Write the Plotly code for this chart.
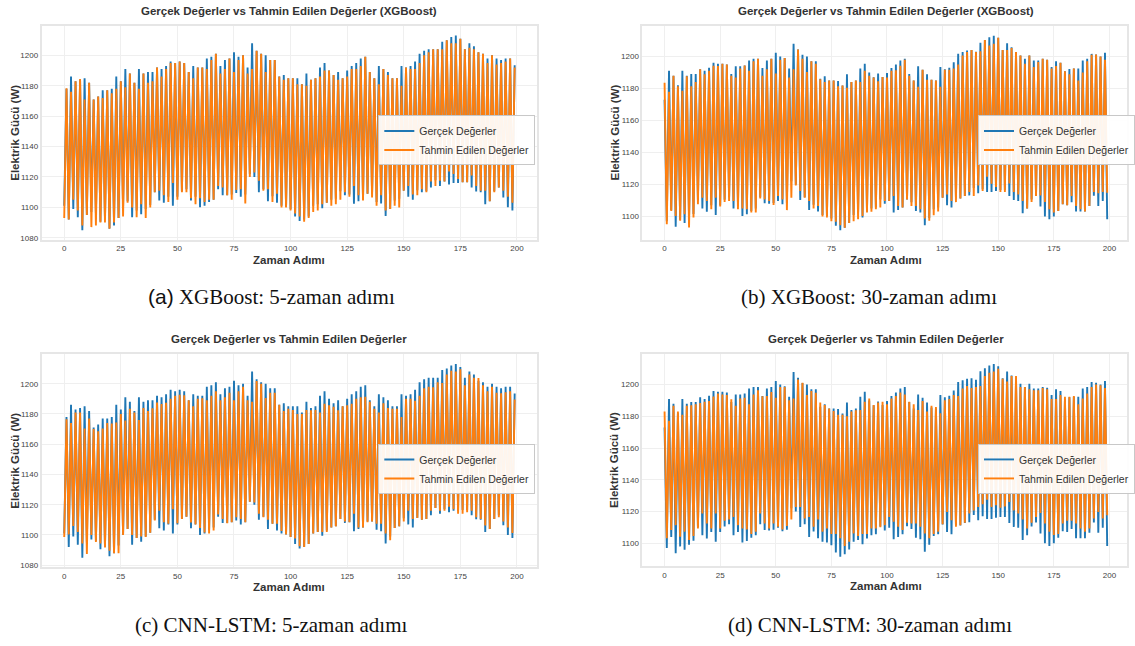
import plotly.graph_objects as go

# ---------------- DATA ----------------
# 5-step panels (a, c): lows at even steps, highs at odd steps
actual5_low = [1101, 1092, 1099, 1093.5, 1085, 1095, 1097, 1096, 1090.5, 1092,
               1086, 1088, 1093, 1100, 1104, 1093.5, 1098, 1095.5, 1099, 1101.5,
               1110, 1104.5, 1103, 1107, 1101, 1107, 1110.5, 1112, 1104.5, 1107,
               1100, 1101, 1103.5, 1105, 1112, 1108, 1108, 1108.5, 1109.5, 1107,
               1108.5, 1122, 1120, 1110, 1112, 1104, 1107.4, 1103, 1101, 1100.4,
               1098.7, 1094, 1091, 1092, 1094, 1101, 1102, 1099.5, 1103, 1105,
               1105.7, 1110.6, 1108, 1108.5, 1102.4, 1104, 1105, 1109, 1109, 1103.5,
               1102.5, 1094.4, 1099, 1104.6, 1105.7, 1111, 1107, 1105, 1111.3, 1110,
               1110.6, 1113, 1117.8, 1114, 1117, 1115, 1116, 1116, 1116.5, 1116.5,
               1113, 1110.4, 1110, 1102, 1104, 1110.6, 1113, 1106.5, 1100, 1098]
actual5_high = [1178, 1186, 1183, 1184, 1185, 1182, 1171, 1173, 1177, 1177,
                1178, 1186, 1183, 1191, 1188, 1182, 1191, 1188, 1189, 1189,
                1192, 1191, 1193, 1196, 1195, 1196, 1195, 1189, 1193, 1192,
                1192, 1198, 1199, 1201, 1193, 1197, 1198, 1202, 1199, 1200,
                1192, 1208, 1203, 1201, 1200, 1197, 1197, 1186, 1187, 1185,
                1185, 1185, 1181, 1188, 1184, 1185, 1192, 1195, 1190, 1187,
                1189, 1185, 1190, 1193, 1195, 1198, 1199, 1189, 1185, 1193,
                1191, 1189, 1185, 1185, 1193, 1192, 1193, 1196, 1201, 1203,
                1204, 1204, 1204, 1209, 1210, 1212, 1213, 1211, 1204, 1208,
                1206, 1202, 1201, 1198, 1200, 1198, 1197, 1198, 1198, 1193.5]
xgb5_low = [1093, 1092, 1105, 1098, 1088, 1095, 1087, 1088, 1090, 1090,
            1086, 1090, 1093, 1094, 1103, 1100, 1093.5, 1102, 1093, 1100,
            1110, 1111, 1108, 1103.5, 1116, 1105, 1110, 1110, 1106, 1102,
            1106, 1103.5, 1105, 1105, 1114, 1113, 1108, 1105, 1111.5, 1112,
            1102.6, 1120, 1123, 1117.5, 1111, 1112, 1103.5, 1109, 1100, 1100,
            1098, 1096, 1094, 1090.5, 1093, 1097, 1098, 1102, 1103, 1101,
            1102, 1105, 1110, 1107, 1114, 1108, 1104.5, 1109, 1106.5, 1101,
            1108, 1098, 1099, 1101, 1100, 1111, 1114, 1108.5, 1108, 1112,
            1110, 1117, 1114, 1117.5, 1117, 1123.6, 1122, 1118.6, 1116.5, 1116.5,
            1121, 1114, 1111, 1111, 1104, 1110, 1113, 1111, 1107, 1103]
xgb5_high = [1178.3, 1176, 1183, 1184.4, 1171, 1182, 1171, 1173, 1172, 1177,
             1175, 1178, 1183, 1179, 1188, 1182, 1178, 1188, 1182, 1183,
             1192, 1186, 1191, 1195, 1195, 1196, 1195, 1189, 1185, 1192,
             1192, 1191, 1197, 1201, 1188, 1191, 1198, 1189, 1197, 1200,
             1188, 1191, 1203, 1201, 1189, 1197, 1197, 1186, 1184, 1185,
             1185, 1181, 1181, 1180, 1184, 1185, 1186, 1190, 1190, 1187,
             1184, 1185, 1186, 1191, 1191, 1193, 1199, 1189, 1185, 1181,
             1191, 1187, 1185, 1185, 1180, 1192, 1191, 1191, 1195, 1200,
             1202, 1204, 1204, 1204, 1210, 1208, 1208, 1211, 1204, 1205,
             1204, 1202, 1201, 1195, 1200, 1194, 1195, 1196, 1198, 1192]
cnn5_low = [1098.7, 1100.4, 1106, 1102, 1094.3, 1087.4, 1100, 1095.4, 1094.3, 1091.7,
            1089.6, 1088, 1088, 1100, 1104, 1100, 1098, 1099, 1098.7, 1101.5,
            1109.6, 1116, 1108.5, 1107.4, 1117, 1107.8, 1110.6, 1112, 1108.3, 1107,
            1104.6, 1101.7, 1101, 1103, 1113.5, 1110.6, 1107.8, 1108.5, 1111.7, 1110.6,
            1108.5, 1122, 1121.5, 1114, 1111.7, 1110, 1107.4, 1107.4, 1102.6, 1100.4,
            1098.7, 1097.6, 1092.6, 1092, 1094, 1101, 1102, 1102, 1102, 1105,
            1105.7, 1110.6, 1109, 1108.5, 1114, 1105, 1105, 1108.5, 1109, 1107.4,
            1107.4, 1101, 1096.5, 1104.6, 1105.7, 1109, 1116, 1110.6, 1111.3, 1110,
            1110.6, 1116, 1117.8, 1116, 1116, 1118.7, 1117, 1114, 1114, 1115,
            1116, 1111.7, 1110.6, 1106.3, 1104, 1110.6, 1111.7, 1109, 1105, 1101.3]
cnn5_high = [1176.5, 1174, 1181, 1181, 1170.4, 1177, 1170, 1168.5, 1170.4, 1174,
             1173.7, 1174.4, 1180, 1175.6, 1183.5, 1181, 1176, 1184, 1182, 1183.7,
             1187.6, 1186.5, 1187.4, 1190, 1192, 1192.6, 1192.4, 1189, 1185, 1190,
             1190.4, 1189, 1192, 1195, 1189, 1191, 1194, 1189, 1195, 1198,
             1189, 1188, 1201.7, 1200, 1190.6, 1194, 1194, 1186, 1182, 1183.5,
             1182.6, 1180, 1180, 1182.6, 1182.4, 1182.6, 1181, 1186.7, 1185.7, 1184.8,
             1182.4, 1185, 1185.7, 1186.7, 1190, 1191, 1191.3, 1188, 1183.5, 1181,
             1187, 1184, 1183.5, 1183.5, 1178, 1190, 1190, 1188.7, 1192, 1197,
             1198, 1197.6, 1201, 1200.4, 1206, 1208.5, 1208, 1209.5, 1199, 1206,
             1204, 1203.7, 1199, 1195, 1198, 1194, 1193.7, 1194.3, 1195, 1189.6]

# 30-step panels (b, d): highs at even steps, lows at odd steps
actual30_high = [1173, 1191, 1188, 1182, 1191, 1188, 1189, 1189, 1192, 1191,
                 1193, 1196, 1195.5, 1195.5, 1195, 1189, 1193.8, 1193.8, 1194.4, 1197.5,
                 1198.5, 1198.5, 1192.8, 1197.5, 1198.5, 1202.3, 1200, 1199, 1192.4, 1208,
                 1204.3, 1201, 1200, 1197, 1197, 1186, 1187.6, 1185, 1185, 1184.7,
                 1181.8, 1188.8, 1184, 1185, 1192.4, 1195.5, 1190, 1187, 1189.3, 1187.2,
                 1189.7, 1192.8, 1195, 1197.5, 1198.5, 1189, 1185, 1193.8, 1191.7, 1188.8,
                 1185.5, 1185, 1193.4, 1192, 1193, 1196.3, 1201.6, 1202.7, 1203.7, 1204,
                 1203, 1208.5, 1210.3, 1212, 1213, 1211.6, 1204, 1208.3, 1205.8, 1202.7,
                 1200.6, 1198.5, 1200.6, 1197.5, 1197.5, 1198.5, 1198, 1193.4, 1197, 1196,
                 1190.7, 1192.1, 1192.4, 1192.4, 1197.5, 1198.5, 1201.6, 1201.2, 1200, 1202.3]
actual30_low = [1097, 1104, 1093.6, 1098, 1095.9, 1099, 1101.5, 1110, 1105, 1103,
                1107, 1101, 1107, 1110.5, 1112, 1105, 1107, 1100.4, 1101.4, 1103.5,
                1105, 1112, 1108.3, 1108, 1108.5, 1109.7, 1107.6, 1108.5, 1122, 1120,
                1110.3, 1112, 1104, 1107.4, 1103.1, 1101, 1100.4, 1098.7, 1094.2, 1091.5,
                1093, 1096, 1101, 1102, 1099.4, 1103, 1105, 1105.7, 1110.6, 1108,
                1109.7, 1102.5, 1104, 1105.6, 1110.7, 1109, 1103.5, 1102.5, 1094.6, 1099,
                1104.6, 1105.7, 1111.8, 1107, 1105.6, 1111.3, 1111.2, 1112.8, 1113.2, 1117.8,
                1114.5, 1117, 1115.3, 1115.3, 1116, 1116.5, 1116.5, 1112.8, 1110.3, 1109.7,
                1102, 1105, 1110.6, 1113, 1106.2, 1100, 1098.3, 1100, 1103.5, 1107.6,
                1107, 1109, 1103.1, 1103.1, 1103.1, 1106.6, 1113, 1106.6, 1109.7, 1098.3]
xgb30_high = [1183.5, 1178, 1188, 1181.4, 1178.5, 1187.6, 1181.4, 1184, 1192, 1188.8,
              1191, 1194.2, 1194, 1195.5, 1195, 1188, 1186.8, 1192.4, 1194.4, 1191,
              1197, 1198.5, 1188, 1192, 1198.5, 1189.3, 1198, 1199, 1186.8, 1192,
              1204.3, 1198.5, 1190.3, 1197, 1195.5, 1185.7, 1184, 1185, 1185, 1181.4,
              1181.8, 1180.4, 1184, 1185, 1184, 1191, 1188, 1186.8, 1184.5, 1187.2,
              1186.8, 1191, 1191.3, 1194.2, 1198, 1188, 1185, 1181, 1191.7, 1185.5,
              1185.5, 1185, 1181, 1191.7, 1191.7, 1192.4, 1195, 1200.6, 1202.7, 1204,
              1202.7, 1203.3, 1210.3, 1206.8, 1207.9, 1211.6, 1204, 1204, 1205.2, 1202.7,
              1200.6, 1195.5, 1200.6, 1193.4, 1196.5, 1198.5, 1198, 1192.4, 1194, 1196,
              1190.7, 1188.8, 1192.4, 1185, 1190, 1197, 1201, 1201.2, 1200, 1198]
xgb30_low = [1095.2, 1103.5, 1100.4, 1097.3, 1101.4, 1093.2, 1099.4, 1107.6, 1111.8, 1109.7,
             1104.5, 1111.8, 1106.2, 1109, 1109.7, 1109.7, 1104.5, 1105, 1104.5, 1102.5,
             1102.5, 1111.2, 1110.7, 1109.7, 1107.2, 1112.8, 1110.7, 1104, 1111.8, 1119.4,
             1116, 1111.8, 1109.7, 1105, 1106.6, 1100, 1099.4, 1097, 1096.7, 1094.6,
             1093, 1095.9, 1097, 1098.3, 1100.4, 1102.5, 1103, 1104.5, 1105.6, 1109.7,
             1109.7, 1112.8, 1106.6, 1105.6, 1110.7, 1106.6, 1106.6, 1104.5, 1098.8, 1097.3,
             1100.8, 1103.1, 1111.8, 1113.8, 1109.7, 1109, 1111.2, 1112.8, 1115.3, 1112.8,
             1119.4, 1116, 1124.8, 1120.5, 1118.4, 1115.3, 1115.3, 1120.7, 1115.3, 1113.8,
             1109.7, 1105, 1109, 1112.8, 1113.2, 1109, 1104.5, 1102.5, 1103.5, 1107.6,
             1107, 1112.8, 1106.6, 1104.5, 1103.1, 1106.6, 1115.3, 1114.5, 1115.3, 1114.9]
cnn30_high = [1183, 1177.2, 1186.7, 1183, 1181, 1186.7, 1187, 1187.6, 1188.4, 1189.2,
              1189.6, 1192.5, 1194.4, 1193.8, 1193.4, 1190.7, 1186.7, 1191.3, 1191.7, 1187.6,
              1193.8, 1196.5, 1192.7, 1192.9, 1195.4, 1191.7, 1198.5, 1198.5, 1190.2, 1191.3,
              1203.3, 1201.2, 1193.4, 1196, 1194.8, 1188.8, 1187.1, 1185, 1183.4, 1181,
              1181, 1180, 1183, 1183.8, 1184, 1189.2, 1191.3, 1187.1, 1188.8, 1189.2,
              1187.6, 1191.3, 1192.9, 1195, 1193.8, 1189.2, 1187.6, 1184, 1189.6, 1183,
              1186.7, 1185.9, 1182, 1190.2, 1190.9, 1193.4, 1192.9, 1197.5, 1199.2, 1197.9,
              1198.5, 1199.2, 1205.4, 1207.5, 1208.3, 1210, 1203.7, 1202, 1205.4, 1205.4,
              1198.5, 1198.5, 1197.1, 1196.5, 1196.5, 1197.9, 1197.1, 1190.9, 1190.9, 1193.4,
              1192.3, 1192.3, 1192.9, 1187.6, 1191.3, 1194.4, 1198.5, 1200, 1199.6, 1197.9]
cnn30_low = [1103.1, 1108.3, 1111.4, 1104.1, 1107.3, 1102, 1104.6, 1109.3, 1118.7, 1112.4,
             1109.3, 1118.7, 1109.3, 1114.1, 1115, 1116.6, 1111.4, 1109.3, 1108.7, 1105.8,
             1107.3, 1118.7, 1112.4, 1109.3, 1112.4, 1110.4, 1108.7, 1110.8, 1115, 1122.8,
             1122.8, 1115.6, 1116.6, 1110.4, 1115, 1107.3, 1109.3, 1105.8, 1105.8, 1103.1,
             1098.3, 1101, 1106.2, 1104.6, 1105.8, 1105.8, 1109.3, 1109.3, 1110, 1111.4,
             1116.6, 1113.5, 1110.4, 1108.3, 1112.9, 1112.4, 1112.4, 1110.4, 1106.2, 1103.1,
             1105.8, 1107.3, 1112, 1119.7, 1114.5, 1110.4, 1111.4, 1112.9, 1118.7, 1120.7,
             1122.8, 1124.5, 1127.4, 1122.8, 1123.9, 1122.4, 1123.2, 1126, 1120.7, 1118.7,
             1115, 1109.3, 1112.9, 1116.6, 1119.1, 1112.4, 1107.3, 1105.2, 1105.8, 1112.4,
             1114.1, 1114.1, 1112.4, 1109.3, 1107.3, 1109.3, 1115.6, 1119.7, 1115.6, 1117.6]

time_steps = list(range(200))
x_ticks = [0, 25, 50, 75, 100, 125, 150, 175, 200]
y_ticks_5 = [1080, 1100, 1120, 1140, 1160, 1180, 1200]
y_ticks_30 = [1100, 1120, 1140, 1160, 1180, 1200]

titles = ["Gerçek Değerler vs Tahmin Edilen Değerler (XGBoost)",
          "Gerçek Değerler vs Tahmin Edilen Değerler (XGBoost)",
          "Gerçek Değerler vs Tahmin Edilen Değerler",
          "Gerçek Değerler vs Tahmin Edilen Değerler"]
captions = [("(a)", "XGBoost: 5-zaman adımı"),
            ("(b)", "XGBoost: 30-zaman adımı"),
            ("(c)", "CNN-LSTM: 5-zaman adımı"),
            ("(d)", "CNN-LSTM: 30-zaman adımı")]
series_names = ["Gerçek Değerler", "Tahmin Edilen Değerler"]


def interleave(first, second):
    out = []
    for p, q in zip(first, second):
        out.extend([p, q])
    return out


panels = [
    (interleave(actual5_low, actual5_high), interleave(xgb5_low, xgb5_high)),
    (interleave(actual30_high, actual30_low), interleave(xgb30_high, xgb30_low)),
    (interleave(actual5_low, actual5_high), interleave(cnn5_low, cnn5_high)),
    (interleave(actual30_high, actual30_low), interleave(cnn30_high, cnn30_low)),
]

# ---------------- LAYOUT ----------------
W, H = 1135, 646
BLUE, ORANGE = "#1f77b4", "#ff7f0e"
SANS = "Liberation Sans, Arial, sans-serif"
SERIF = "Liberation Serif, Times New Roman, serif"

# pixel boxes: (left, right, top, bottom)
boxes = [(42, 541, 26, 241), (647, 1135, 26, 241),
         (42, 541, 356, 570), (647, 1135, 356, 569)]
xranges = [[-9.95, 208.95], [-9.95, 207.9], [-9.95, 208.95], [-9.95, 207.9]]
yranges = [[1078.6, 1219.4], [1085.4, 1219.1], [1078.6, 1219.4], [1085.4, 1219.1]]
yticks = [y_ticks_5, y_ticks_30, y_ticks_5, y_ticks_30]
centers_x = [291, 892, 291, 892]
caption_pos = [(273, 298), (875, 298), (273, 628), (876, 628)]
legend_pos = [(381, 116), (985, 116), (381, 446), (985, 446)]
ylabel_x = [15, 619, 15, 619]

fig = go.Figure()
annotations = []
layout_axes = {}


def note(text, px, py, size, family=SANS, color="#333", angle=0):
    return dict(text=text, x=px / W, y=1 - py / H, xref="paper", yref="paper",
                xanchor="center", yanchor="middle", showarrow=False, textangle=angle,
                font=dict(family=family, size=size, color=color))


for i, (actual, pred) in enumerate(panels):
    n = i + 1
    xa = "x" if n == 1 else f"x{n}"
    ya = "y" if n == 1 else f"y{n}"
    leg = "legend" if n == 1 else f"legend{n}"
    fig.add_trace(go.Scatter(x=time_steps, y=actual, mode="lines", name=series_names[0],
                             line=dict(color=BLUE, width=1.9), xaxis=xa, yaxis=ya,
                             legend=leg))
    fig.add_trace(go.Scatter(x=time_steps, y=pred, mode="lines", name=series_names[1],
                             line=dict(color=ORANGE, width=1.9), xaxis=xa, yaxis=ya,
                             legend=leg))
    l, r, t, b = boxes[i]
    xkey = "xaxis" if n == 1 else f"xaxis{n}"
    ykey = "yaxis" if n == 1 else f"yaxis{n}"
    layout_axes[xkey] = dict(domain=[l / W, min(r / W, 1.0)], range=xranges[i],
                             anchor=ya, tickvals=x_ticks, showgrid=True,
                             gridcolor="#efefef", gridwidth=1, zeroline=False,
                             showline=True, mirror=True, linecolor="#e6e6e6", linewidth=2,
                             ticks="", tickfont=dict(family=SANS, size=8, color="#444"))
    layout_axes[ykey] = dict(domain=[1 - b / H, 1 - t / H], range=yranges[i],
                             anchor=xa, tickvals=yticks[i], showgrid=True,
                             gridcolor="#efefef", gridwidth=1, zeroline=False,
                             showline=True, mirror=True, linecolor="#e6e6e6", linewidth=2,
                             ticks="", tickfont=dict(family=SANS, size=8, color="#444"))
    lx, ly = legend_pos[i]
    layout_axes[leg] = dict(x=lx / W, y=1 - ly / H, xanchor="left", yanchor="top",
                            bgcolor="rgba(255,255,255,0.92)", bordercolor="#c8c8c8",
                            borderwidth=1, font=dict(family=SANS, size=10.5, color="#333"),
                            itemwidth=30, tracegroupgap=0)
    annotations.append(note(f"<b>{titles[i]}</b>", centers_x[i], t - 15, 11.5))
    annotations.append(note("<b>Zaman Adımı</b>", centers_x[i], b + 20, 11.5))
    annotations.append(note("<b>Elektrik Gücü (W)</b>", ylabel_x[i], (t + b) / 2, 11.5,
                            angle=-90))
    cx, cy = caption_pos[i]
    tag, rest = captions[i]
    if i == 0:
        cap = f"<span style='font-family:Liberation Sans'>{tag}</span> {rest}"
    else:
        cap = f"{tag} {rest}"
    annotations.append(note(cap, cx, cy, 21, family=SERIF, color="#111"))

fig.update_layout(width=W, height=H, margin=dict(l=0, r=0, t=0, b=0),
                  paper_bgcolor="white", plot_bgcolor="white",
                  annotations=annotations, **layout_axes)

fig.write_html("out.html", config={"displayModeBar": False},
               post_script="document.body.style.margin='0';document.body.style.padding='0';"
                           "document.documentElement.style.overflow='hidden';")
